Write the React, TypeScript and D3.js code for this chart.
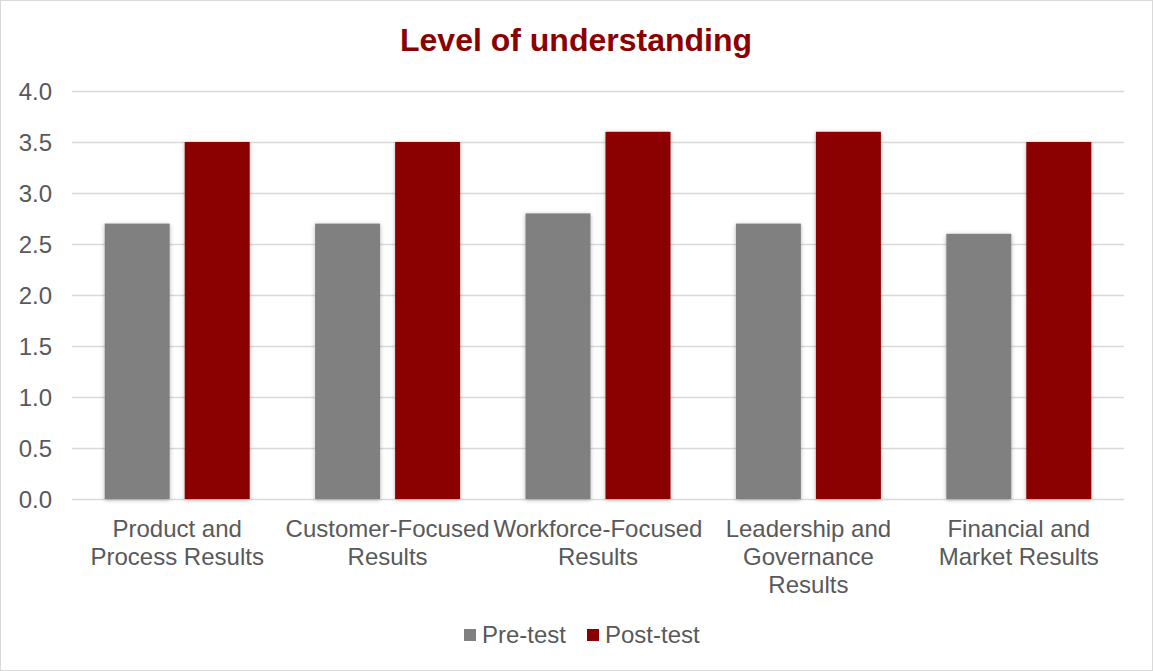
import React from "react";
import * as d3 from "d3";

const categories = [
  "Product and Process Results",
  "Customer-Focused Results",
  "Workforce-Focused Results",
  "Leadership and Governance Results",
  "Financial and Market Results",
];
const categoryLines = [
  ["Product and", "Process Results"],
  ["Customer-Focused", "Results"],
  ["Workforce-Focused", "Results"],
  ["Leadership and", "Governance", "Results"],
  ["Financial and", "Market Results"],
];
const seriesNames = ["Pre-test", "Post-test"];
const preTest = [2.7, 2.7, 2.8, 2.7, 2.6];
const postTest = [3.5, 3.5, 3.6, 3.6, 3.5];
const yTicks = [0, 0.5, 1, 1.5, 2, 2.5, 3, 3.5, 4];
const colors = ["#808080", "#8B0000"];

const W = 1153;
const H = 671;
const FONT = "'Liberation Sans', Arial, sans-serif";

export default function App() {
  const left = 72, right = 1124, top = 91, bottom = 499;
  const x = d3.scaleBand<string>().domain(categories).range([left, right]).padding(0);
  const y = d3.scaleLinear().domain([0, 4]).range([bottom, top]);
  const groupW = 145;
  const bw = x.bandwidth();
  const x1 = d3
    .scaleBand<string>()
    .domain(seriesNames)
    .range([(bw - groupW) / 2, (bw + groupW) / 2])
    .paddingInner(0.1875)
    .paddingOuter(0);
  const data = [preTest, postTest];

  return (
    <svg
      width={W}
      height={H}
      style={{ position: "absolute", left: 0, top: 0, display: "block" }}
      fontFamily={FONT}
    >
      <defs>
        <filter id="sh" x="-20%" y="-20%" width="140%" height="140%">
          <feDropShadow dx="0" dy="1" stdDeviation="2" floodColor="#000" floodOpacity="0.3" />
        </filter>
      </defs>
      <rect x={0.5} y={0.5} width={W - 1} height={H - 1} fill="#fff" stroke="#d9d9d9" />
      <text x={576} y={51} textAnchor="middle" fontSize={32} fontWeight="bold" fill="#8B0000">
        Level of understanding
      </text>
      {yTicks.map((t) => (
        <g key={t}>
          <line x1={left} x2={right} y1={Math.round(y(t)) + 0.5} y2={Math.round(y(t)) + 0.5} stroke="#d9d9d9" strokeWidth={1.5} />
          <text x={52} y={y(t) + 8.5} textAnchor="end" fontSize={24} fill="#595959">
            {t.toFixed(1)}
          </text>
        </g>
      ))}
      {categories.map((c, i) => (
        <g key={c} transform={`translate(${x(c)},0)`}>
          {seriesNames.map((s, j) => (
            <rect
              key={s}
              x={x1(s)}
              y={y(data[j][i])}
              width={x1.bandwidth()}
              height={y(0) - y(data[j][i])}
              fill={colors[j]}
              filter="url(#sh)"
            />
          ))}
          <text textAnchor="middle" fontSize={24} fill="#595959">
            {categoryLines[i].map((ln, k) => (
              <tspan key={k} x={bw / 2} y={537 + k * 28}>
                {ln}
              </tspan>
            ))}
          </text>
        </g>
      ))}
      <g>
        <rect x={464} y={629} width={12} height={12} fill={colors[0]} />
        <text x={482} y={643} fontSize={24} fill="#595959">{seriesNames[0]}</text>
        <rect x={587} y={629} width={12} height={12} fill={colors[1]} />
        <text x={605} y={643} fontSize={24} fill="#595959">{seriesNames[1]}</text>
      </g>
    </svg>
  );
}
